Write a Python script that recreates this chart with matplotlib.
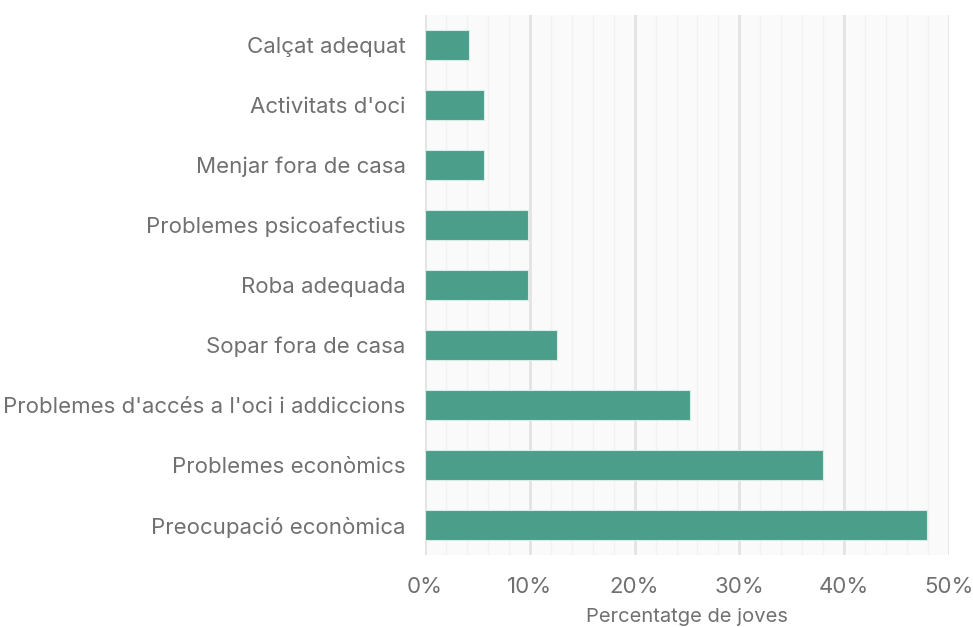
import matplotlib.pyplot as plt
from matplotlib.ticker import MultipleLocator, FuncFormatter

categories = ["Calçat adequat", "Activitats d'oci", "Menjar fora de casa",
              "Problemes psicoafectius", "Roba adequada", "Sopar fora de casa",
              "Problemes d'accés a l'oci i addiccions", "Problemes econòmics",
              "Preocupació econòmica"]
values = [4.2, 5.6, 5.6, 9.8, 9.8, 12.6, 25.3, 38.0, 47.9]

plt.rcParams['font.family'] = ['Inter', 'DejaVu Sans']

fig = plt.figure(figsize=(9.73, 6.27), dpi=100)
ax = fig.add_axes([0.4368, 0.1148, 0.5385, 0.8613])
ax.set_facecolor('#fafafa')

ypos = list(range(len(categories)))
ax.barh(ypos, values, height=0.5, color='#4a9e8a', edgecolor='#d8ebe5', linewidth=0.8, zorder=3)

ax.set_yticks(ypos)
ax.set_yticklabels(categories)
ax.set_ylim(len(categories) - 0.5, -0.5)
ax.set_xlim(0, 50)
ax.xaxis.set_major_locator(MultipleLocator(10))
ax.xaxis.set_minor_locator(MultipleLocator(2))
ax.xaxis.set_major_formatter(FuncFormatter(lambda v, p: f"{v:.0f}%"))
ax.grid(axis='x', which='major', color='#e3e3e3', linewidth=2, zorder=0)
ax.grid(axis='x', which='minor', color='#f2f2f2', linewidth=1.0, zorder=0)
ax.set_axisbelow(True)
for s in ax.spines.values():
    s.set_visible(False)
ax.tick_params(axis='both', which='both', length=0, labelsize=16, labelcolor='#707070')
ax.tick_params(axis='y', pad=14)
ax.tick_params(axis='x', pad=16)
ax.set_xlabel('Percentatge de joves', fontsize=14.5, color='#707070', labelpad=8)

fig.savefig('out.png', dpi=100)
